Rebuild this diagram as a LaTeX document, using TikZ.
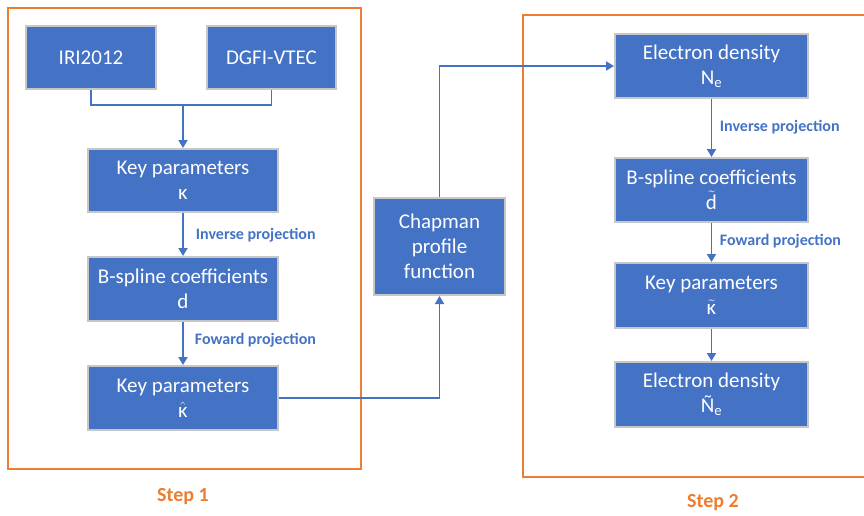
\documentclass[tikz,border=0pt]{standalone}
\usepackage{fontspec}
\setmainfont{Carlito}
\usepackage{amsmath}
\usetikzlibrary{arrows.meta}
\definecolor{boxblue}{HTML}{4472C4}
\definecolor{steporange}{HTML}{ED7D31}

\begin{document}
\begin{tikzpicture}[
  x=1pt,y=-1pt,
  box/.style={draw=black!22,line width=2pt,fill=boxblue,text=white,
    font=\fontsize{21}{25}\selectfont,align=center,inner sep=0pt},
  proj/.style={text=boxblue,font=\bfseries\fontsize{16}{18}\selectfont,anchor=west,inner sep=0pt},
  wire/.style={draw=boxblue,line width=1.8pt},
  link/.style={wire,-{Triangle[length=8pt,width=9pt]}},
  frame/.style={draw=steporange,line width=2pt},
  steplabel/.style={text=steporange,font=\bfseries\fontsize{20}{22}\selectfont},
]
\useasboundingbox (0,0) rectangle (864,515);
\draw[frame] (8,8) rectangle (361,469);
\draw[frame] (523,15) rectangle (866,477);

\node[box,minimum width=130pt,minimum height=63pt] (iri) at (91,57.5) {IRI2012};
\node[box,minimum width=129pt,minimum height=63pt] (dgfi) at (271.5,57.5) {DGFI-VTEC};
\node[box,minimum width=190pt,minimum height=63pt] (kappa) at (183,180.5) {Key parameters\\κ};
\node[box,minimum width=190pt,minimum height=64pt] (spline) at (183,289) {B-spline coefficients\\d};
\node[box,minimum width=190pt,minimum height=64pt] (kappahat) at (183,398) {Key parameters\\$\hat{\text{κ}}$};
\node[box,minimum width=131pt,minimum height=97pt] (chapman) at (439.5,246.5) {Chapman\\profile\\function};
\node[box,minimum width=193pt,minimum height=64pt] (ne) at (711.5,66) {Electron density\\N\textsubscript{e}};
\node[box,minimum width=193pt,minimum height=64pt] (splinetil) at (711.5,190) {B-spline coefficients\\$\tilde{\text{d}}$};
\node[box,minimum width=193pt,minimum height=65pt] (kappatil) at (711.5,295.5) {Key parameters\\$\tilde{\text{κ}}$};
\node[box,minimum width=193pt,minimum height=65pt] (netil) at (711.5,394.5) {Electron density\\Ñ\textsubscript{e}};

\coordinate (join) at (183,105);
\draw[wire] (iri.south) |- (join) -| (dgfi.south);
\draw[link] (join) -- (kappa.north);
\draw[link] (kappa) -- (spline) node[proj] (inv1) at (195,235) {Inverse projection};
\draw[link] (spline) -- (kappahat) node[proj] (fwd1) at (194,340) {Foward projection};
\draw[link] (kappahat.east) -| (chapman.south);
\draw[link] (chapman.north) |- (ne.west);
\draw[link] (ne) -- (splinetil) node[proj] (inv2) at (719,127) {Inverse projection};
\draw[link] (splinetil) -- (kappatil) node[proj] (fwd2) at (719,241) {Foward projection};
\draw[link] (kappatil) -- (netil);

\node[steplabel] (step1) at (183,497) {Step 1};
\node[steplabel] (step2) at (713,503) {Step 2};
\end{tikzpicture}
\end{document}
